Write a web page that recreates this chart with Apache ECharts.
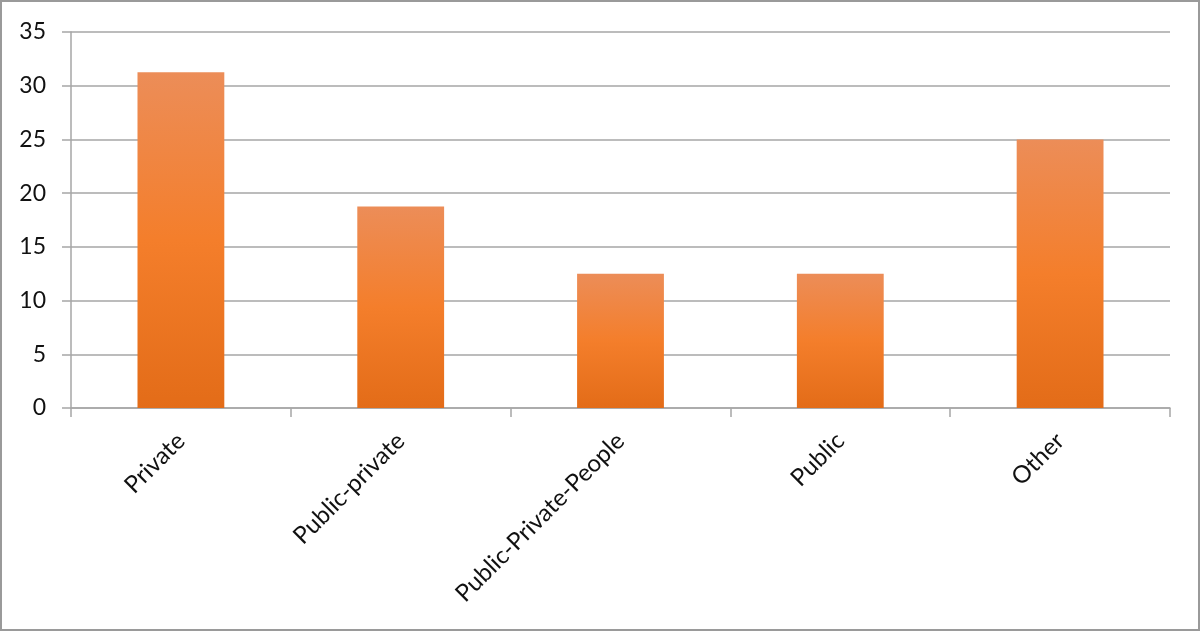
<!DOCTYPE html>
<html>
<head>
<meta charset="utf-8">
<script src="https://cdn.jsdelivr.net/npm/echarts@6/dist/echarts.min.js"></script>
<style>
html,body{margin:0;padding:0;background:#fff;}
#frame{position:absolute;left:0;top:0;width:1196px;height:627px;border:2px solid #9a9a9a;}
#chart{position:absolute;left:0;top:0;width:1200px;height:631px;}
</style>
</head>
<body>
<div id="frame"></div>
<div id="chart"></div>
<script>
const categories = ['Private', 'Public-private', 'Public-Private-People', 'Public', 'Other'];
const values = [31.25, 18.75, 12.5, 12.5, 25];
const yTicks = { min: 0, max: 35, interval: 5 };

const chart = echarts.init(document.getElementById('chart'), null, { renderer: 'canvas' });
const gray = '#a6a6a6';
chart.setOption({
  animation: false,
  grid: { left: 71, right: 30, top: 32, bottom: 223, containLabel: false },
  xAxis: {
    type: 'category',
    data: categories,
    boundaryGap: true,
    axisLine: { lineStyle: { color: gray, width: 1.5 } },
    axisTick: { show: true, length: 9, alignWithLabel: false, lineStyle: { color: gray, width: 1.5 } },
    axisLabel: {
      rotate: 45, interval: 0, margin: 29,
      color: '#111', fontSize: 24, fontFamily: 'Lato'
    }
  },
  yAxis: {
    type: 'value',
    min: yTicks.min, max: yTicks.max, interval: yTicks.interval,
    axisLine: { show: true, lineStyle: { color: gray, width: 1.5 } },
    axisTick: { show: true, length: 9, lineStyle: { color: gray, width: 1.5 } },
    splitLine: { show: true, lineStyle: { color: gray, width: 1.5 } },
    axisLabel: { margin: 25, color: '#111', fontSize: 23, fontFamily: 'Lato' }
  },
  series: [{
    type: 'bar',
    data: values,
    barWidth: '39.5%',
    itemStyle: {
      color: new echarts.graphic.LinearGradient(0, 0, 0, 1, [
        { offset: 0, color: '#ec8d58' },
        { offset: 0.5, color: '#f47e2b' },
        { offset: 1, color: '#e36c18' }
      ])
    }
  }]
});
</script>
</body>
</html>
